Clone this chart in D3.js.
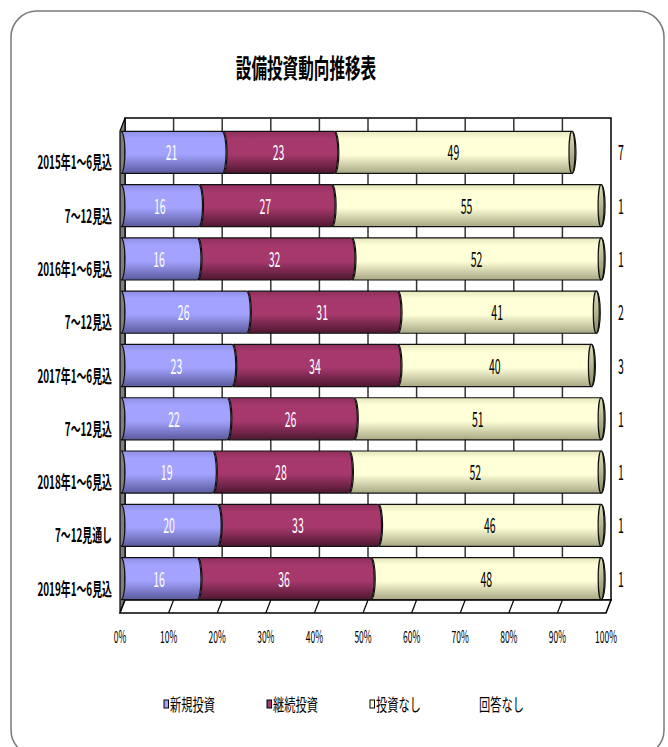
<!DOCTYPE html>
<html>
<head>
<meta charset="utf-8">
<script src="https://cdn.jsdelivr.net/npm/d3@7"></script>
<style>
  body { margin: 0; background: #fff; }
  text { font-family: "Noto Sans CJK JP", "Noto Sans", sans-serif; }
</style>
</head>
<body>
<div id="vis"></div>
<script>
// data
var categories = ["2015年1～6見込", "7～12見込", "2016年1～6見込", "7～12見込", "2017年1～6見込",
                  "7～12見込", "2018年1～6見込", "7～12見通し", "2019年1～6見込"];
var seriesNames = ["新規投資", "継続投資", "投資なし", "回答なし"];
var shinki  = [21, 16, 16, 26, 23, 22, 19, 20, 16];
var keizoku = [23, 27, 32, 31, 34, 26, 28, 33, 36];
var nashi   = [49, 55, 52, 41, 40, 51, 52, 46, 48];
var kaitou  = [7, 1, 1, 2, 3, 1, 1, 1, 1];
var tickLabels = ["0%", "10%", "20%", "30%", "40%", "50%", "60%", "70%", "80%", "90%", "100%"];

var W = 668, H = 747;
var depth = {dx: 5, dy: -13};

var svg = d3.select("#vis").append("svg")
  .attr("width", W).attr("height", H);

// colour per series: top edge, body, bottom shade
var colors = [
  {top: "#8f8fe6", base: "#a3a3ff", dark: "#5a5a9c", text: "#fff"},
  {top: "#8e2f5c", base: "#a6386c", dark: "#4e1730", text: "#fff"},
  {top: "#e6e6bd", base: "#ffffd8", dark: "#a8a884", text: "#000"}
];

var defs = svg.append("defs");
colors.forEach(function(c, i) {
  var g = defs.append("linearGradient").attr("id", "grad" + i)
    .attr("x1", 0).attr("y1", 0).attr("x2", 0).attr("y2", 1);
  g.append("stop").attr("offset", "0%").attr("stop-color", c.top);
  g.append("stop").attr("offset", "18%").attr("stop-color", c.base);
  g.append("stop").attr("offset", "55%").attr("stop-color", c.base);
  g.append("stop").attr("offset", "100%").attr("stop-color", c.dark);
});
var cap = defs.append("linearGradient").attr("id", "capgrad")
  .attr("x1", 0).attr("y1", 0).attr("x2", 0).attr("y2", 1);
cap.append("stop").attr("offset", "0%").attr("stop-color", "#e0e0b8");
cap.append("stop").attr("offset", "100%").attr("stop-color", "#8a8a68");

// outer frame
svg.append("rect")
  .attr("x", 11).attr("y", 11).attr("width", 653).attr("height", 745)
  .attr("rx", 26).attr("ry", 26)
  .attr("fill", "#fff").attr("stroke", "#7a7a7a").attr("stroke-width", 1.5);

function squeezed(sel, x, y, s) {
  return sel.attr("transform", "translate(" + x + "," + y + ") scale(" + s + ",1)");
}

// title
squeezed(svg.append("text"), 306, 78, 0.6)
  .attr("text-anchor", "middle")
  .attr("font-size", 26).attr("font-weight", "bold")
  .text("設備投資動向推移表");

// scales (front plane)
var x = d3.scaleLinear().domain([0, 1]).range([120, 606]);
var y = d3.scaleBand().domain(d3.range(categories.length))
  .range([126, 605]).paddingInner(0.21).paddingOuter(0.1);

var top0 = 118, bottom0 = 613;
var ticks = d3.range(0, 1.0001, 0.1);

// back wall
var plot = svg.append("g");
plot.append("rect")
  .attr("x", x(0) + depth.dx).attr("y", top0)
  .attr("width", x(1) - x(0)).attr("height", bottom0 + depth.dy - top0)
  .attr("fill", "#fff").attr("stroke", "#000").attr("stroke-width", 1.5);
plot.selectAll("line.grid").data(ticks.slice(1, -1)).enter().append("line")
  .attr("class", "grid")
  .attr("x1", function(d) { return x(d) + depth.dx; })
  .attr("x2", function(d) { return x(d) + depth.dx; })
  .attr("y1", top0).attr("y2", bottom0 + depth.dy)
  .attr("stroke", "#333").attr("stroke-width", 1.5);

// left side wall
plot.append("path")
  .attr("d", "M" + x(0) + "," + (top0 - depth.dy) + "L" + (x(0) + depth.dx) + "," + top0 +
             "L" + (x(0) + depth.dx) + "," + (bottom0 + depth.dy) + "L" + x(0) + "," + bottom0 + "Z")
  .attr("fill", "#7f7f7f").attr("stroke", "#000").attr("stroke-width", 1.2);

// floor
plot.append("path")
  .attr("d", "M" + x(0) + "," + bottom0 + "L" + (x(0) + depth.dx) + "," + (bottom0 + depth.dy) +
             "L" + (x(1) + depth.dx) + "," + (bottom0 + depth.dy) + "L" + x(1) + "," + bottom0 + "Z")
  .attr("fill", "#fff").attr("stroke", "#000").attr("stroke-width", 1.5);
plot.selectAll("line.floor").data(ticks.slice(1, -1)).enter().append("line")
  .attr("class", "floor")
  .attr("x1", function(d) { return x(d); })
  .attr("x2", function(d) { return x(d) + depth.dx; })
  .attr("y1", bottom0).attr("y2", bottom0 + depth.dy)
  .attr("stroke", "#000").attr("stroke-width", 1.2);

// x tick labels
plot.selectAll("text.tick").data(tickLabels).enter().append("text")
  .attr("class", "tick")
  .attr("text-anchor", "middle")
  .attr("font-size", 17)
  .attr("transform", function(d, i) { return "translate(" + x(ticks[i]) + ",643) scale(0.5,1)"; })
  .text(function(d) { return d; });

// category labels
plot.selectAll("text.cat").data(categories).enter().append("text")
  .attr("class", "cat")
  .attr("text-anchor", "end")
  .attr("font-size", 18).attr("font-weight", "bold")
  .attr("transform", function(d, i) {
    return "translate(112," + (y(i) + y.bandwidth() / 2 + 17) + ") scale(0.55,1)";
  })
  .text(function(d) { return d; });

// stacked cylinders (100% stacked, so each row is normalized to its total)
var rx = 4;
var values = [shinki, keizoku, nashi];
var bars = plot.selectAll("g.bar").data(categories).enter().append("g").attr("class", "bar");

bars.each(function(d, i) {
  var g = d3.select(this);
  var total = shinki[i] + keizoku[i] + nashi[i] + kaitou[i];
  var t = y(i), b = y(i) + y.bandwidth(), ry = (b - t) / 2, mid = t + ry;
  var cum = 0;
  values.forEach(function(arr, s) {
    var x0 = x(cum / total) + 1;
    cum += arr[i];
    var x1 = x(cum / total);
    g.append("path")
      .attr("d", "M" + x0 + "," + t + "L" + x1 + "," + t +
                 "A" + rx + "," + ry + " 0 0 1 " + x1 + "," + b +
                 "L" + x0 + "," + b +
                 "A" + rx + "," + ry + " 0 0 0 " + x0 + "," + t + "Z")
      .attr("fill", "url(#grad" + s + ")")
      .attr("stroke", "#111").attr("stroke-width", 1.2);
    if (s == 2) {
      g.append("ellipse")
        .attr("cx", x1).attr("cy", mid).attr("rx", rx - 1).attr("ry", ry)
        .attr("fill", "url(#capgrad)").attr("stroke", "#111").attr("stroke-width", 1.2);
    }
    squeezed(g.append("text"), (x0 + x1) / 2, mid + 8, 0.5)
      .attr("text-anchor", "middle")
      .attr("font-size", 21)
      .attr("fill", colors[s].text)
      .text(arr[i]);
  });
  // 回答なし has no fill, only its label to the right
  squeezed(g.append("text"), 621, mid + 8, 0.5)
    .attr("text-anchor", "middle")
    .attr("font-size", 21)
    .text(kaitou[i]);
});

// legend
var legendX = [164, 267, 370, 473];
var legend = svg.selectAll("g.legend").data(seriesNames).enter().append("g").attr("class", "legend");
legend.each(function(d, i) {
  var g = d3.select(this);
  if (i < 3) {
    g.append("rect")
      .attr("x", legendX[i]).attr("y", 700).attr("width", 4.5).attr("height", 8)
      .attr("fill", colors[i].base).attr("stroke", "#000").attr("stroke-width", 1);
  }
  squeezed(g.append("text"), legendX[i] + 6, 711, 0.66)
    .attr("font-size", 17)
    .text(d);
});
</script>
</body>
</html>
